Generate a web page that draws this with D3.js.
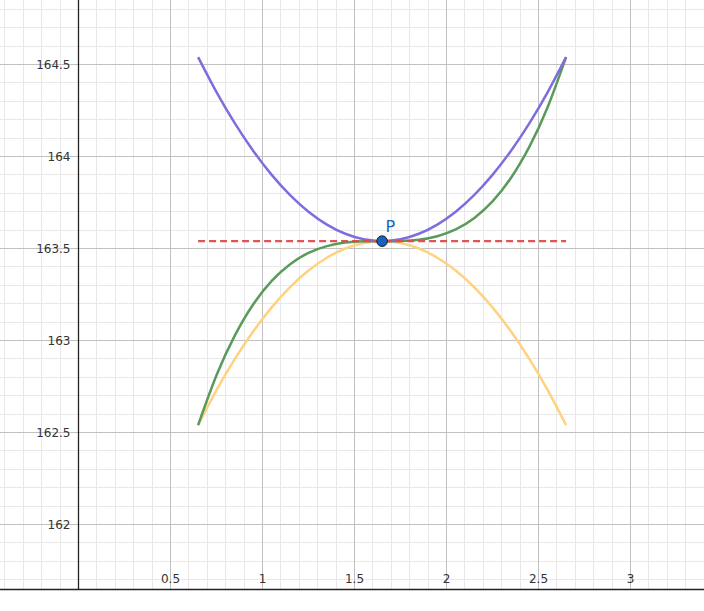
<!DOCTYPE html>
<html><head><meta charset="utf-8">
<script src="https://cdn.jsdelivr.net/npm/d3@7"></script>
<style>html,body{margin:0;padding:0;background:#fff;}svg{display:block;}</style>
</head><body>
<svg id="c" width="704" height="611"></svg>
<script>
// ---- data ----
const xs = [0.65,0.75,0.85,0.95,1.05,1.15,1.25,1.35,1.45,1.55,1.65,1.75,1.85,1.95,2.05,2.15,2.25,2.35,2.45,2.55,2.65];
const purpleY = [164.54,164.35,164.18,164.03,163.90,163.79,163.70,163.63,163.58,163.55,163.54,163.55,163.58,163.63,163.70,163.79,163.90,164.03,164.18,164.35,164.54];
const yellowY = [162.54,162.73,162.90,163.05,163.18,163.29,163.38,163.45,163.50,163.53,163.54,163.53,163.50,163.45,163.38,163.29,163.18,163.05,162.90,162.73,162.54];
const greenY  = [162.54,162.811,163.028,163.197,163.324,163.415,163.476,163.513,163.532,163.539,163.54,163.541,163.548,163.567,163.604,163.665,163.756,163.883,164.052,164.269,164.54];
const tangentX = [0.65, 2.65];
const tangentY = [163.54, 163.54];
const pointP = {name: "P", x: 1.65, y: 163.54};
const xTickLabels = ["0.5","1","1.5","2","2.5","3"];
const yTickLabels = ["162","162.5","163","163.5","164","164.5"];

// ---- layout ----
const W = 704, plotH = 589.5;
const x = d3.scaleLinear().domain([0, 1]).range([78.5, 78.5 + 184]);
const y = d3.scaleLinear().domain([162, 163]).range([524.5, 524.5 - 184]);
const svg = d3.select("#c");
const xMin = x.invert(0), xMax = x.invert(W);
const yMin = y.invert(plotH), yMax = y.invert(0);

const g = svg.append("g");
// minor grid
const minorX = d3.range(Math.ceil(xMin*10), Math.floor(xMax*10)+1).map(d => d/10);
const minorY = d3.range(Math.ceil(yMin*10), Math.floor(yMax*10)+1).map(d => d/10);
g.selectAll("line.mx").data(minorX).join("line")
  .attr("x1", d => Math.round(x(d)-0.5)+0.5).attr("x2", d => Math.round(x(d)-0.5)+0.5)
  .attr("y1", 0).attr("y2", plotH).attr("stroke", "#e8e8e8").attr("stroke-width", 1);
g.selectAll("line.my").data(minorY).join("line")
  .attr("y1", d => Math.round(y(d)-0.5)+0.5).attr("y2", d => Math.round(y(d)-0.5)+0.5)
  .attr("x1", 0).attr("x2", W).attr("stroke", "#e8e8e8").attr("stroke-width", 1);
// major grid
const majorX = d3.range(Math.ceil(xMin*2), Math.floor(xMax*2)+1).map(d => d/2);
const majorY = d3.range(Math.ceil(yMin*2), Math.floor(yMax*2)+1).map(d => d/2);
g.selectAll("line.Mx").data(majorX).join("line")
  .attr("x1", d => Math.round(x(d)-0.5)+0.5).attr("x2", d => Math.round(x(d)-0.5)+0.5)
  .attr("y1", 0).attr("y2", plotH).attr("stroke", "#c0c0c0").attr("stroke-width", 1);
g.selectAll("line.My").data(majorY).join("line")
  .attr("y1", d => Math.round(y(d)-0.5)+0.5).attr("y2", d => Math.round(y(d)-0.5)+0.5)
  .attr("x1", 0).attr("x2", W).attr("stroke", "#c0c0c0").attr("stroke-width", 1);

// axes
svg.append("line").attr("x1", x(0)).attr("x2", x(0)).attr("y1", 0).attr("y2", plotH)
  .attr("stroke", "#222").attr("stroke-width", 1.3);
svg.append("line").attr("x1", 0).attr("x2", W).attr("y1", plotH).attr("y2", plotH)
  .attr("stroke", "#222").attr("stroke-width", 1.3);

// tick labels
const font = "'DejaVu Sans', sans-serif";
svg.selectAll("text.xl").data(xTickLabels).join("text")
  .attr("x", d => x(+d)).attr("y", 583).attr("text-anchor", "middle")
  .attr("font-family", font).attr("font-size", 12).attr("fill", "#333").text(d => d);
svg.selectAll("text.yl").data(yTickLabels).join("text")
  .attr("x", 70.5).attr("y", d => y(+d)).attr("dy", "0.36em").attr("text-anchor", "end")
  .attr("font-family", font).attr("font-size", 12).attr("fill", "#333").text(d => d);

// curves
const line = d3.line().x(d => x(d[0])).y(d => y(d[1])).curve(d3.curveNatural);
const series = [
  {ys: yellowY, color: "#ffd27f"},
  {ys: greenY, color: "#5a9a5a"},
  {ys: purpleY, color: "#7d6ee0"}
];
series.forEach(s => {
  svg.append("path").datum(xs.map((v, i) => [v, s.ys[i]]))
    .attr("d", line).attr("fill", "none").attr("stroke", s.color)
    .attr("stroke-width", 2.5).attr("stroke-linecap", "butt");
});
svg.append("path").datum(tangentX.map((v, i) => [v, tangentY[i]]))
  .attr("d", d3.line().x(d => x(d[0])).y(d => y(d[1])))
  .attr("fill", "none").attr("stroke", "#e04a4a").attr("stroke-width", 2.3)
  .attr("stroke-dasharray", "7,4").attr("opacity", 0.95);

// point
svg.append("circle").attr("cx", x(pointP.x)).attr("cy", y(pointP.y)).attr("r", 5.3)
  .attr("fill", "#1565c0").attr("stroke", "#1a1a2e").attr("stroke-width", 1);
svg.append("text").attr("x", x(pointP.x) + 3.5).attr("y", y(pointP.y) - 9)
  .attr("font-family", font).attr("font-size", 16).attr("fill", "#1565c0").text(pointP.name);
</script>
</body></html>
